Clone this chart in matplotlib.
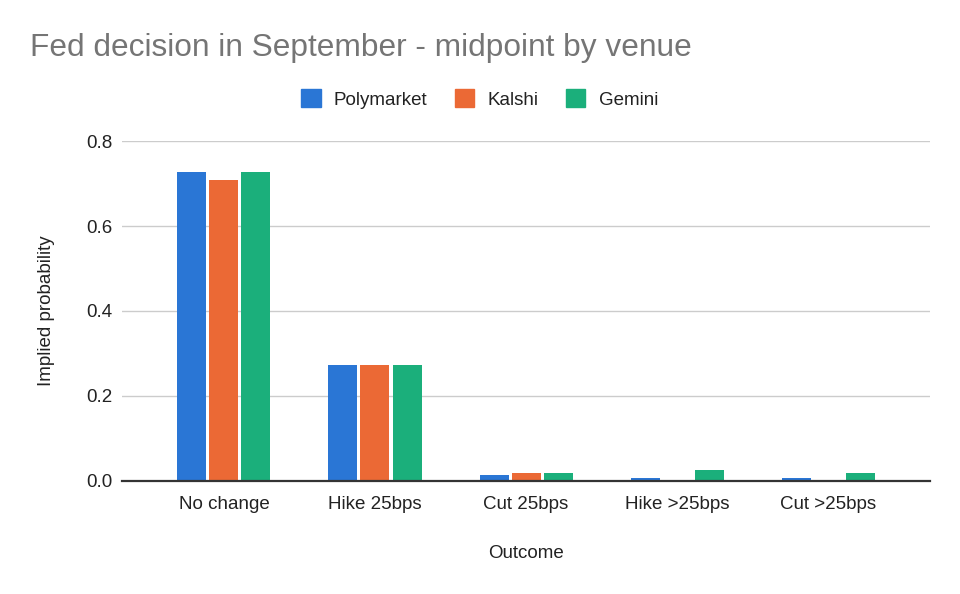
import matplotlib
matplotlib.use("Agg")
import matplotlib.pyplot as plt
from matplotlib.patches import Patch
import numpy as np

plt.rcParams['font.family'] = ['Liberation Sans', 'DejaVu Sans']

categories = ["No change", "Hike 25bps", "Cut 25bps", "Hike >25bps", "Cut >25bps"]
series_names = ["Polymarket", "Kalshi", "Gemini"]
polymarket = [0.727, 0.273, 0.013, 0.005, 0.005]
kalshi = [0.708, 0.273, 0.017, 0.0, 0.0]
gemini = [0.727, 0.273, 0.017, 0.025, 0.017]
colors = ["#2A76D5", "#EB6935", "#1BAF7B"]
yticks = [0.0, 0.2, 0.4, 0.6, 0.8]

fs = 13.5
fig = plt.figure(figsize=(9.6, 5.94), dpi=100)
ax = fig.add_axes([0.127, 0.191, 0.842, 0.571])

x = np.arange(len(categories))
w = 0.192
step = 0.212
for i, (vals, c) in enumerate(zip([polymarket, kalshi, gemini], colors)):
    ax.bar(x + (i - 1) * step, vals, width=w, color=c, zorder=3)

ax.set_xlim(-0.675, 4.675)
ax.set_ylim(0, 0.8)
ax.set_yticks(yticks)
ax.set_yticklabels([f"{t:.1f}" for t in yticks])
ax.set_xticks(x)
ax.set_xticklabels(categories)
ax.tick_params(axis='both', length=0, labelsize=fs, colors="#222222")
ax.tick_params(axis='y', pad=7)
ax.tick_params(axis='x', pad=11)
ax.grid(axis='y', color="#cccccc", linewidth=1, zorder=0)
for s in ["top", "right", "left"]:
    ax.spines[s].set_visible(False)
ax.spines["bottom"].set_color("#333333")
ax.spines["bottom"].set_linewidth(1.6)
ax.spines["bottom"].set_zorder(4)

ax.set_ylabel("Implied probability", fontsize=fs, color="#222222", labelpad=22)
ax.set_xlabel("Outcome", fontsize=fs, color="#222222", labelpad=23)

fig.text(30 / 960, 1 - 48 / 594, "Fed decision in September - midpoint by venue",
         fontsize=22.8, color="#757575", va="center", ha="left")

handles = [Patch(color=c, label=n) for c, n in zip(colors, series_names)]
fig.legend(handles=handles, loc="center", bbox_to_anchor=(0.4995, 1 - 99 / 594),
           ncol=3, frameon=False, fontsize=fs, handlelength=1.05, handleheight=1.05,
           handletextpad=0.7, columnspacing=1.45, labelcolor="#222222")

fig.savefig("out.png", dpi=100)
